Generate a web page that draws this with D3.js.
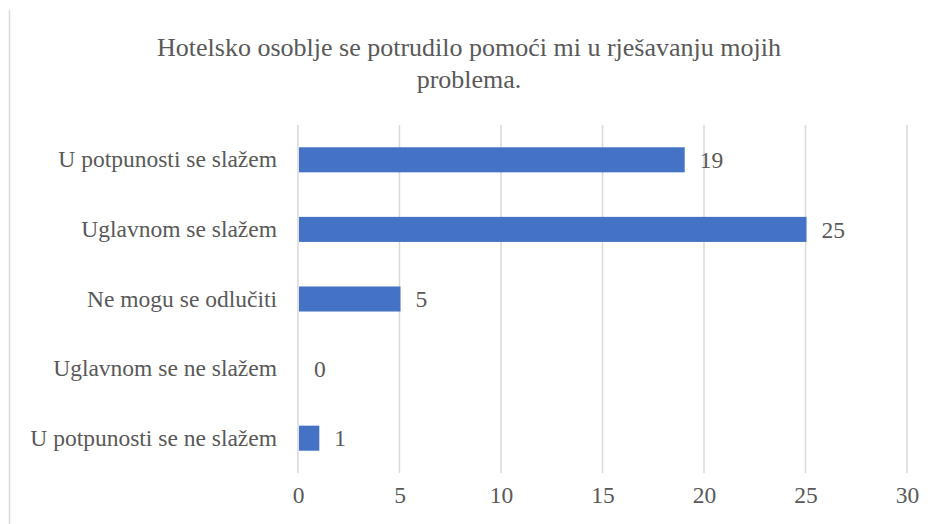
<!DOCTYPE html>
<html>
<head>
<meta charset="utf-8">
<script src="https://cdn.jsdelivr.net/npm/d3@7"></script>
<style>
  body { margin: 0; background: #fff; }
</style>
</head>
<body>
<div id="chart"></div>
<script>
// answers, top to bottom as shown
var categories = ["U potpunosti se slažem", "Uglavnom se slažem", "Ne mogu se odlučiti",
                  "Uglavnom se ne slažem", "U potpunosti se ne slažem"];
var counts = [19, 25, 5, 0, 1];
var xTicks = [0, 5, 10, 15, 20, 25, 30];
var titleLines = ["Hotelsko osoblje se potrudilo pomoći mi u rješavanju mojih", "problema."];

var svgWidth = 938;
var svgHeight = 524;
var serif = "'Liberation Serif', 'Times New Roman', serif";
var textColor = "#595959";
var labelSize = "23.5px";

// plot area
var margin = { top: 125, right: 31, bottom: 51, left: 298 };
var chartWidth = svgWidth - margin.left - margin.right;
var chartHeight = svgHeight - margin.top - margin.bottom;

var svg = d3.select("#chart")
  .append("svg")
  .attr("width", svgWidth)
  .attr("height", svgHeight);

// frame edge on the left
svg.append("line")
  .attr("x1", 9.5).attr("x2", 9.5)
  .attr("y1", 10).attr("y2", svgHeight)
  .attr("stroke", "#d9d9d9")
  .attr("stroke-width", 1.5);

// title
svg.append("text")
  .attr("text-anchor", "middle")
  .style("font-family", serif)
  .style("font-size", "26px")
  .style("fill", textColor)
  .selectAll("tspan")
  .data(titleLines)
  .enter()
  .append("tspan")
  .attr("x", 469)
  .attr("y", (d, i) => 56 + i * 32)
  .text(d => d);

var chartGroup = svg.append("g")
  .attr("transform", `translate(${margin.left}, ${margin.top})`);

var xScale = d3.scaleLinear()
  .domain([0, 30])
  .range([0, chartWidth]);

var yScale = d3.scaleBand()
  .domain(categories)
  .range([0, chartHeight])
  .paddingInner(0.64)
  .paddingOuter(0.32);

// vertical gridlines
chartGroup.selectAll(".grid")
  .data(xTicks)
  .enter()
  .append("line")
  .attr("class", "grid")
  .attr("x1", d => xScale(d))
  .attr("x2", d => xScale(d))
  .attr("y1", 0)
  .attr("y2", chartHeight)
  .attr("stroke", "#d9d9d9")
  .attr("stroke-width", 1.5);

// x axis tick labels
var bottomAxis = d3.axisBottom(xScale).tickValues(xTicks).tickSize(0).tickPadding(13);
var xAxis = chartGroup.append("g")
  .attr("transform", `translate(0, ${chartHeight})`)
  .call(bottomAxis);
xAxis.select(".domain").remove();
xAxis.selectAll("text")
  .style("font-family", serif)
  .style("font-size", labelSize)
  .style("fill", textColor);

// y axis category labels
var leftAxis = d3.axisLeft(yScale).tickSize(0).tickPadding(21);
var yAxis = chartGroup.append("g").call(leftAxis);
yAxis.select(".domain").remove();
yAxis.selectAll("text")
  .style("font-family", serif)
  .style("font-size", labelSize)
  .style("fill", textColor);

// bars
chartGroup.selectAll(".bar")
  .data(counts)
  .enter()
  .append("rect")
  .attr("class", "bar")
  .attr("x", xScale(0) + 1)
  .attr("y", (d, i) => yScale(categories[i]))
  .attr("width", d => Math.max(0, xScale(d) - xScale(0)))
  .attr("height", yScale.bandwidth())
  .attr("fill", "#4472c4");

// value labels
chartGroup.selectAll(".value")
  .data(counts)
  .enter()
  .append("text")
  .attr("class", "value")
  .attr("x", d => xScale(d) + 16)
  .attr("y", (d, i) => yScale(categories[i]) + yScale.bandwidth() / 2)
  .attr("dy", "0.35em")
  .style("font-family", serif)
  .style("font-size", labelSize)
  .style("fill", textColor)
  .text(d => d);
</script>
</body>
</html>
